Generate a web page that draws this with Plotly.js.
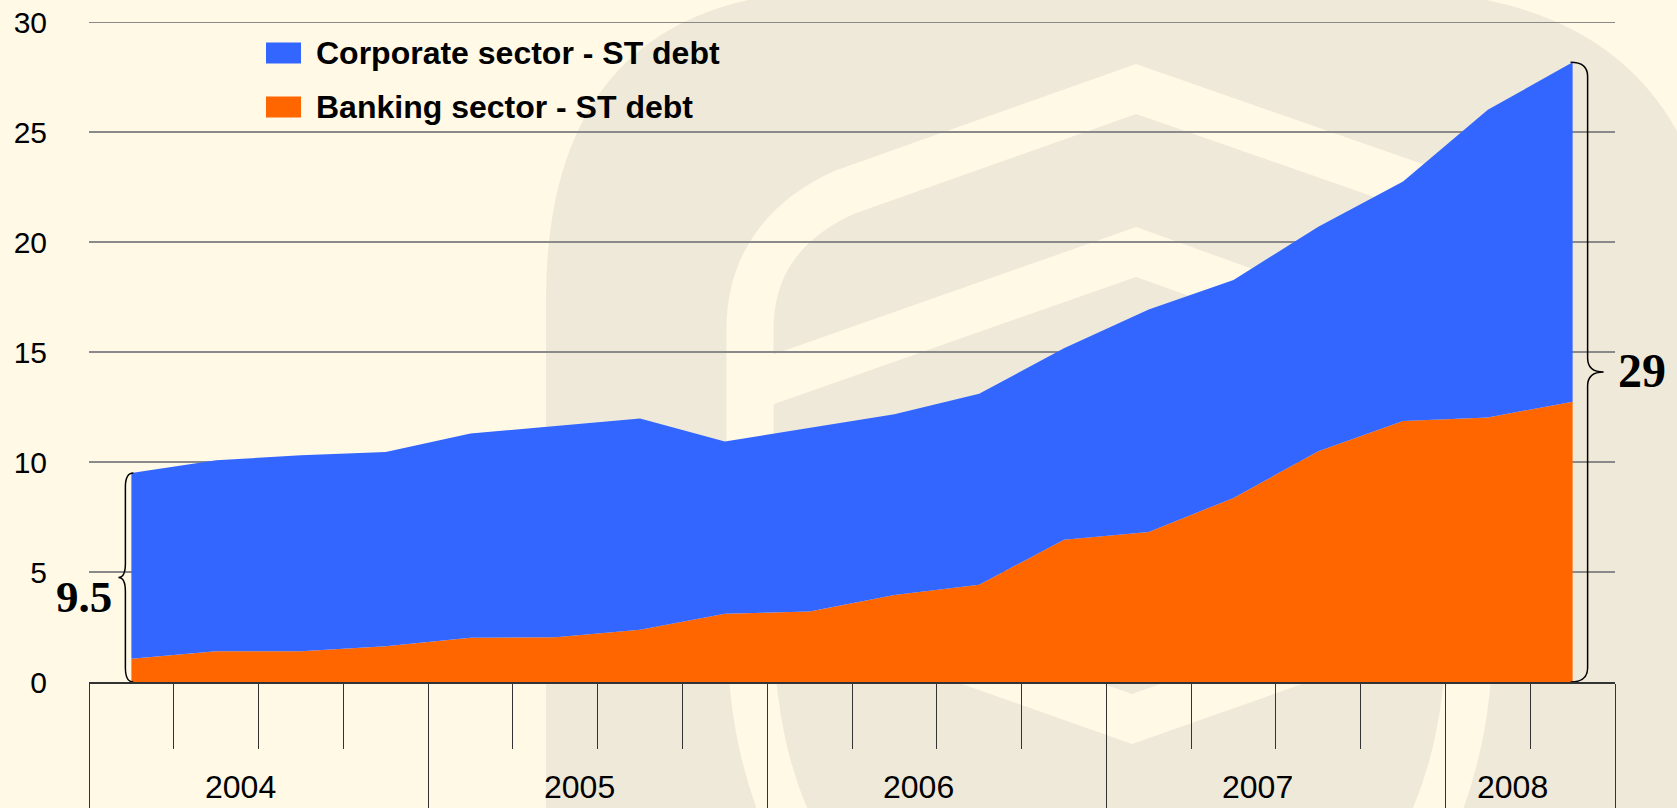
<!DOCTYPE html>
<html><head><meta charset="utf-8">
<script src="https://cdn.plot.ly/plotly-3.0.1.min.js"></script>
<style>html,body{margin:0;padding:0;background:#FFF9E6;overflow:hidden} #chart{width:1677px;height:808px;}</style>
</head><body><div id="chart"></div>
<script>
// ---- data ----
const quarters = ['2004 Q1','2004 Q2','2004 Q3','2004 Q4','2005 Q1','2005 Q2','2005 Q3','2005 Q4',
                  '2006 Q1','2006 Q2','2006 Q3','2006 Q4','2007 Q1','2007 Q2','2007 Q3','2007 Q4',
                  '2008 Q1','2008 Q2'];
const years = ['2004','2005','2006','2007','2008'];
const bankingDebt   = [1.06,1.40,1.40,1.63,2.01,2.03,2.37,3.10,3.21,3.95,4.42,6.47,6.82,8.37,10.49,11.87,12.03,12.74];
const corporateDebt = [8.44,8.68,8.91,8.83,9.29,9.62,9.61,7.83,8.34,8.22,8.68,8.70,10.12,9.90,10.21,10.88,13.98,15.44];
const seriesNames = ['Corporate sector - ST debt','Banking sector - ST debt'];
const braceLabels = ['9.5','29'];
const yTicks = [0,5,10,15,20,25,30];
const yMax = 30.05;

// ---- geometry helpers ----
const W = 1677, H = 808;
const M = {l:89, r:62, t:21, b:126, pad:0};
const PW = W - M.l - M.r, PH = H - M.t - M.b;
const fx = x => (x - M.l) / PW;
const fy = y => 1 - (y - M.t) / PH;
function P(list){
  let out = '', i = 0;
  const n = {M:1, L:1, Q:2, C:3};
  while (i < list.length){
    const c = list[i++];
    if (c === 'Z'){ out += 'Z'; continue; }
    out += c;
    for (let k = 0; k < n[c]; k++){ out += fx(list[i++]).toFixed(5) + ',' + fy(list[i++]).toFixed(5) + ' '; }
  }
  return out;
}

const idx = quarters.map((q, i) => i);
const totals = bankingDebt.map((b, i) => b + corporateDebt[i]);
const yearOf = quarters.map(q => q.split(' ')[0]);
const yearCenters = years.map(y => {
  const ii = idx.filter(i => yearOf[i] === y);
  return (ii[0] + ii[ii.length - 1]) / 2;
});
const yearBounds = [-0.5];
years.forEach(y => { const ii = idx.filter(i => yearOf[i] === y); yearBounds.push(ii[ii.length - 1] + 0.5); });
const quarterBounds = idx.map(i => i - 0.5).concat([idx.length - 0.5]);

const cream = '#FFF9E6', beige = '#EFE9D9';
const band = path => ({type:'path', xref:'paper', yref:'paper', layer:'below',
  fillcolor:'rgba(0,0,0,0)', line:{color:cream, width:47}, path});

// ---- watermark (decorative) ----
const shapes = [
  {type:'path', xref:'paper', yref:'paper', layer:'below', fillcolor:beige, line:{width:0},
   path: P(['M',546,900,'L',546,300,'Q',546,-10,846,-10,'L',1380,-10,'Q',1720,-10,1720,330,'L',1720,900,'Z'])},
  band(P(['M',820,880,'Q',750,780,750,620,'L',750,330,'Q',750,235,845,192,'L',1136,89,'L',1420,188,
          'Q',1470,212,1470,300,'L',1470,620,'Q',1470,780,1400,880])),
  band(P(['M',760,384,'L',1136,252,'L',1470,372])),
  band(P(['M',760,588,'L',1132,719,'L',1470,600]))
];

// legend swatches
const legendColors = ['#3366FF', '#FF6600'];
const legendRows = [53, 107];
legendColors.forEach((c, k) => {
  shapes.push({type:'rect', xref:'paper', yref:'paper', layer:'above', fillcolor:c, line:{width:0},
    x0: fx(266), x1: fx(301), y0: fy(legendRows[k] - 10.5), y1: fy(legendRows[k] + 10.5)});
});

// braces (x in pixels relative to a data anchor, y in data units)
const pxPerUnit = PH / yMax;
const r = 14 / pxPerUnit;
function brace(anchor, y0, y1, xv, xh, xt){
  const ym = (y0 + y1) / 2;
  return {type:'path', xref:'x', yref:'y', xsizemode:'pixel', xanchor:anchor, layer:'above',
    fillcolor:'rgba(0,0,0,0)', line:{color:'#000', width:1.5},
    path: `M${xh},${y1} Q${xv},${y1} ${xv},${y1 - r} L${xv},${ym + r} Q${xv},${ym} ${xt},${ym} ` +
          `Q${xv},${ym} ${xv},${ym - r} L${xv},${y0 + r} Q${xv},${y0} ${xh},${y0}`};
}
shapes.push(brace(idx[0], 0, totals[0], -6, 2, -13));
shapes.push(brace(idx[idx.length - 1], 0, totals[totals.length - 1], 15, -2, 31));

// ---- annotations ----
const annotations = [];
years.forEach((y, k) => annotations.push({
  text: y, x: yearCenters[k], xref:'x', y: fy(787), yref:'paper', xshift:-18,
  showarrow:false, xanchor:'center', yanchor:'middle',
  font:{family:'Liberation Sans, Arial, sans-serif', size:32, color:'#000'}
}));
seriesNames.forEach((s, k) => annotations.push({
  text: s, x: fx(314), xref:'paper', y: fy(legendRows[k]), yref:'paper',
  showarrow:false, xanchor:'left', yanchor:'middle',
  font:{family:'Liberation Sans, Arial, sans-serif', size:32, color:'#000', weight:700}
}));
annotations.push({text: braceLabels[0], x: idx[0], xref:'x', y: totals[0] / 2, yref:'y',
  xshift:-47, yshift:-19, showarrow:false, xanchor:'center', yanchor:'middle',
  font:{family:'Liberation Serif, Times New Roman, serif', size:45, color:'#000', weight:700}});
annotations.push({text: braceLabels[1], x: idx[idx.length - 1], xref:'x', y: totals[totals.length - 1] / 2, yref:'y',
  xshift:69, yshift:2, showarrow:false, xanchor:'center', yanchor:'middle',
  font:{family:'Liberation Serif, Times New Roman, serif', size:48, color:'#000', weight:700}});

// ---- traces ----
const traces = [
  {x: idx, y: bankingDebt, name: seriesNames[1], type:'scatter', mode:'lines', stackgroup:'one',
   fillcolor:'#FF6600', line:{width:0, color:'#FF6600'}, hoverinfo:'skip'},
  {x: idx, y: corporateDebt, name: seriesNames[0], type:'scatter', mode:'lines', stackgroup:'one',
   fillcolor:'#3366FF', line:{width:0, color:'#3366FF'}, hoverinfo:'skip'}
];

const layout = {
  width: W, height: H, margin: M, showlegend:false,
  paper_bgcolor: cream, plot_bgcolor:'rgba(0,0,0,0)',
  font:{family:'Liberation Sans, Arial, sans-serif', color:'#000'},
  xaxis:{type:'linear', range:[-0.5, idx.length - 0.5], fixedrange:true,
    showgrid:false, zeroline:false, showline:true, linecolor:'#333', linewidth:1.5,
    tickmode:'array', tickvals: yearBounds, ticks:'outside', ticklen:130, tickwidth:1, tickcolor:'#333',
    showticklabels:false,
    minor:{tickmode:'array', tickvals: quarterBounds, ticks:'outside', ticklen:65, tickwidth:1, tickcolor:'#333', showgrid:false}
  },
  yaxis:{range:[0, yMax], fixedrange:true, tickmode:'array', tickvals: yTicks,
    showgrid:true, gridcolor:'#8a8a8a', gridwidth:1.2, zeroline:false, showline:false, ticks:'',
    ticklabelstandoff: 41, tickfont:{size:30, family:'Liberation Sans, Arial, sans-serif', color:'#000'}},
  shapes, annotations
};

Plotly.newPlot('chart', traces, layout, {staticPlot:true, displayModeBar:false});
</script></body></html>
